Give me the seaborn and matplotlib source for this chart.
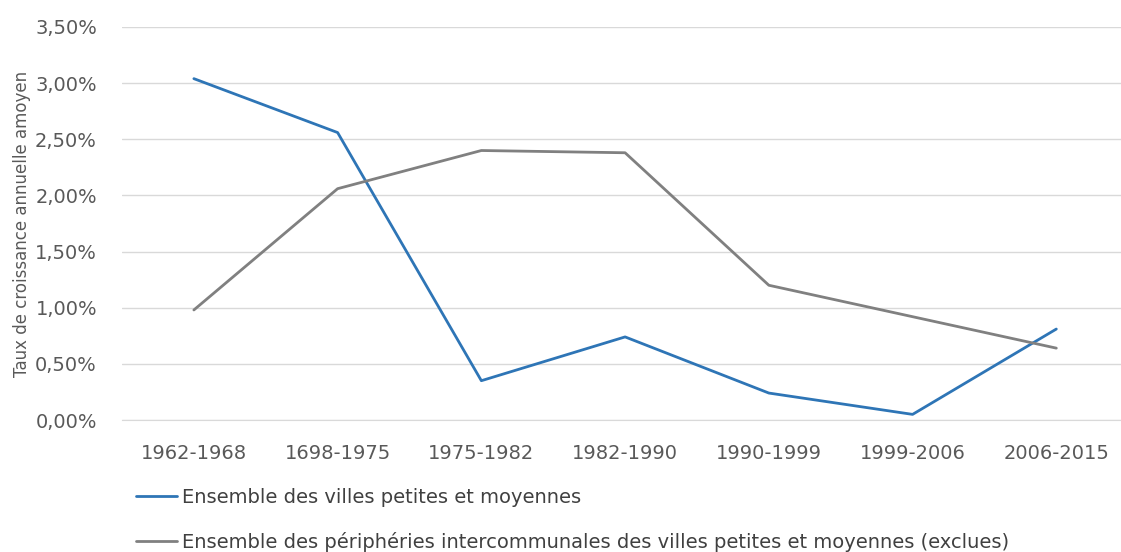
import pandas as pd
import matplotlib.pyplot as plt
import matplotlib.ticker as mticker
import seaborn as sns

# periods as written on the chart
periods = ['1962-1968', '1698-1975', '1975-1982', '1982-1990',
           '1990-1999', '1999-2006', '2006-2015']
villes = [3.04, 2.56, 0.35, 0.74, 0.24, 0.05, 0.81]
peripheries = [0.98, 2.06, 2.40, 2.38, 1.20, 0.92, 0.64]
series_names = ['Ensemble des villes petites et moyennes',
                'Ensemble des périphéries intercommunales des villes petites et moyennes (exclues)']

df = pd.DataFrame({
    'periode': periods * 2,
    'taux': villes + peripheries,
    'serie': [series_names[0]] * len(periods) + [series_names[1]] * len(periods),
})

sns.set_style('white')
plt.rcParams['font.family'] = ['DejaVu Sans']

fig = plt.figure(figsize=(11.21, 5.52), dpi=100)
ax = fig.add_axes([122 / 1121, 1 - 420 / 552, 1 - 122 / 1121, (420 - 27) / 552])

sns.lineplot(data=df, x='periode', y='taux', hue='serie', sort=False,
             palette=['#2E75B6', '#808080'], linewidth=2, ax=ax, legend=False)

ax.set_ylim(0, 3.5)
ax.set_xlim(-0.5, 6.45)
ax.yaxis.set_major_locator(mticker.MultipleLocator(0.5))
ax.yaxis.set_major_formatter(mticker.FuncFormatter(lambda v, p: f'{v:.2f}%'.replace('.', ',')))
ax.grid(axis='y', color='#D9D9D9', linewidth=1)
ax.set_axisbelow(True)
for s in ['top', 'right', 'left']:
    ax.spines[s].set_visible(False)
ax.spines['bottom'].set_color('#D9D9D9')
ax.tick_params(axis='both', length=0, labelsize=14, colors='#595959')
ax.tick_params(axis='y', pad=18)
ax.tick_params(axis='x', pad=17)
ax.set_xlabel('')
ax.set_ylabel('Taux de croissance annuelle amoyen', fontsize=12, color='#595959', labelpad=3)

handles = [plt.Line2D([], [], color='#2E75B6', linewidth=2),
           plt.Line2D([], [], color='#808080', linewidth=2)]
leg = fig.legend(handles, series_names, loc='upper left',
                 bbox_to_anchor=(136 / 1121, 1 - 488 / 552), frameon=False,
                 fontsize=14, handlelength=2.1, handletextpad=0.25,
                 labelspacing=1.3, borderaxespad=0, borderpad=0)
for t in leg.get_texts():
    t.set_color('#404040')

fig.savefig('out.png', dpi=100)
